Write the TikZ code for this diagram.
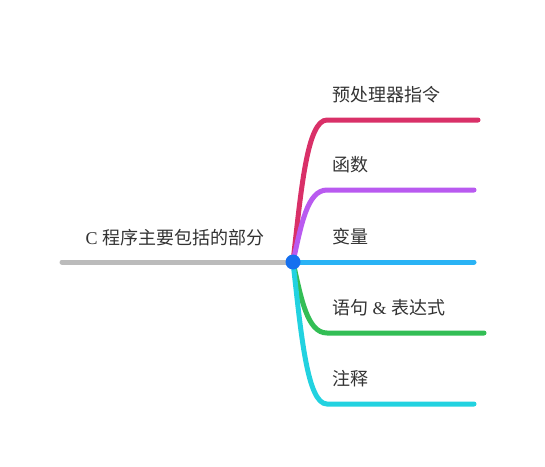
\documentclass[tikz,border=0pt]{standalone}
\usepackage{fontspec}
\setmainfont{Liberation Serif}
\newfontfamily\cjk{Noto Sans CJK SC}
\usetikzlibrary{positioning,calc}
\definecolor{rootgray}{HTML}{BBBBBB}
\definecolor{dotblue}{HTML}{1570EF}
\definecolor{brred}{HTML}{D93068}
\definecolor{brpurple}{HTML}{B95AF0}
\definecolor{brblue}{HTML}{2AB3F5}
\definecolor{brgreen}{HTML}{33BE55}
\definecolor{brcyan}{HTML}{22D2E0}
\tikzset{
  branch/.style={line width=5pt, line cap=round},
  label/.style={font=\fontsize{18}{21}\selectfont, anchor=west, inner sep=0pt, text=black!80}
}
\begin{document}
\begin{tikzpicture}[x=1pt,y=-1pt]
\useasboundingbox (0,0) rectangle (545,466);
% Root
\coordinate (start) at (62,262);
\coordinate (hub) at (293,262);
\draw[branch, rootgray] (start) -- (hub);
\node[label, anchor=center] (root) at (175,238) {C {\cjk 程序主要包括的部分}};
% Branches
\foreach \y/\xe/\col/\txt/\nm in {120/478/brred/{\cjk 预处理器指令}/pre,
                                  190/474/brpurple/{\cjk 函数}/fun,
                                  333/484/brgreen/{{\cjk 语句} \& {\cjk 表达式}}/sta,
                                  404/474/brcyan/{\cjk 注释}/com} {
  \coordinate (\nm-k) at (327,\y);
  \coordinate (\nm-e) at (\xe,\y);
  \draw[branch, \col] (hub) .. controls (301,{(262+\y)/2}) and (307,\y) .. (\nm-k) -- (\nm-e);
  \node[label] (\nm) at (332,\y-25) {\txt};
}
\coordinate (var-e) at (474,262);
\draw[branch, brblue] (hub) -- (var-e);
\node[label] (var) at (332,237) {\cjk 变量};
% Hub dot
\fill[dotblue] (hub) circle (7.5);
\end{tikzpicture}
\end{document}
